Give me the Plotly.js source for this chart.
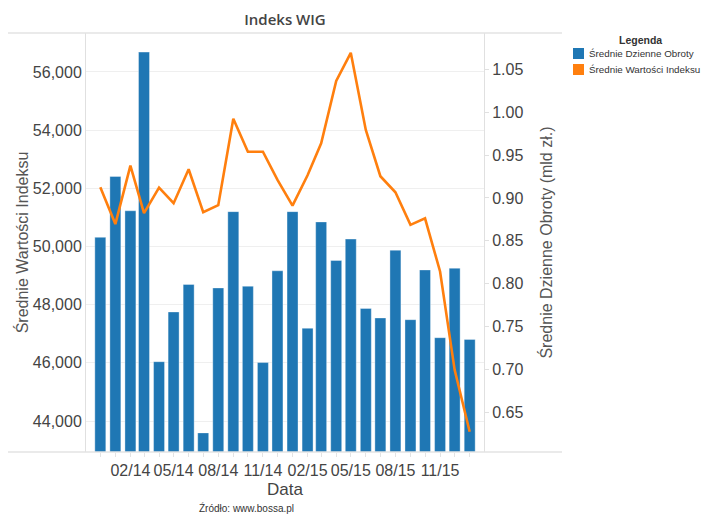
<!DOCTYPE html>
<html>
<head>
<meta charset="utf-8">
<script src="https://cdn.plot.ly/plotly-3.0.1.min.js"></script>
<style>html,body{margin:0;padding:0;background:#fff;}#chart{width:705px;height:515px;}</style>
</head>
<body>
<div id="chart"></div>
<script>
// Months (bars/points centred on the first day of each month)
const months = ["2013-12-01","2014-01-01","2014-02-01","2014-03-01","2014-04-01","2014-05-01",
  "2014-06-01","2014-07-01","2014-08-01","2014-09-01","2014-10-01","2014-11-01","2014-12-01",
  "2015-01-01","2015-02-01","2015-03-01","2015-04-01","2015-05-01","2015-06-01","2015-07-01",
  "2015-08-01","2015-09-01","2015-10-01","2015-11-01","2015-12-01","2016-01-01"];

// Średnie Dzienne Obroty (mld zł) – bars, right axis
const obroty = [0.854,0.925,0.885,1.070,0.709,0.767,0.799,0.626,0.795,0.884,0.797,0.708,0.815,
  0.884,0.748,0.872,0.827,0.852,0.771,0.760,0.839,0.758,0.816,0.737,0.818,0.735];

// Średnie Wartości Indeksu – line, left axis
const indeks = [52040,50770,52780,51145,52025,51490,52655,51180,51420,54395,53260,53260,52290,
  51405,52450,53550,55690,56660,54005,52415,51865,50745,50970,49140,45760,43630];

const leftTicks = [44000,46000,48000,50000,52000,54000,56000];
const rightTicks = [0.65,0.70,0.75,0.80,0.85,0.90,0.95,1.00,1.05];

const seriesNames = ['Średnie Dzienne Obroty', 'Średnie Wartości Indeksu'];
const blue = '#1f77b4', orange = '#ff7f0e';
const seriesColors = [blue, orange];
const FONT = 'Liberation Sans, Arial, sans-serif';

const traces = [
  {type:'bar', x:months, y:obroty, yaxis:'y', name:seriesNames[0],
   marker:{color:blue, line:{color:'rgba(255,255,255,0.35)', width:1}},
   width:22.6*86400000, showlegend:false},
  {type:'scatter', mode:'lines', x:months, y:indeks, yaxis:'y2', name:seriesNames[1],
   line:{color:orange, width:2.6}, showlegend:false}
];

const W = 705, H = 515;
const pl = (px)=> (px-86)/398;        // paper x from pixel
const pv = (py)=> (452-py)/419;       // paper y from pixel

// hand-built legend (Tableau style: square swatches for both series)
const legShapes = seriesNames.map((n,i)=>({type:'rect', xref:'paper', yref:'paper',
  x0:pl(573), x1:pl(584), y0:pv(48+16*i+11), y1:pv(48+16*i), fillcolor:seriesColors[i], line:{width:0}}));
const legAnn = seriesNames.map((n,i)=>({text:n, xref:'paper', yref:'paper', x:pl(587), xanchor:'left',
  y:pv(53.5+16*i), yanchor:'middle', showarrow:false, font:{family:FONT, size:9.8, color:'#333'}}));

const layout = {
  width:W, height:H, autosize:false,
  margin:{l:86, r:221, t:33, b:63, autoexpand:false},
  paper_bgcolor:'#fff', plot_bgcolor:'#fff',
  font:{family:FONT, color:'#555'},
  title:{text:'Indeks WIG', x:0.5, xref:'paper', xanchor:'center', y:1-20/515, yanchor:'middle',
    font:{family:'Open Sans, sans-serif', size:15, color:'#444', weight:600}},
  bargap:0,
  showlegend:false,
  xaxis:{type:'date', range:['2013-11-01 12:00','2016-01-30 12:00'],
    tick0:'2014-02-01', dtick:'M3', tickformat:'%m/%y', tickangle:0, automargin:false,
    ticks:'outside', ticklen:4, tickcolor:'#e3e3e3',
    minor:{dtick:'M1', ticks:'outside', ticklen:4, tickcolor:'#e3e3e3', showgrid:false},
    showgrid:false, zeroline:false, showline:false,
    tickfont:{family:FONT, size:16, color:'#444'},
    title:{text:'Data', font:{family:FONT, size:17, color:'#444'}, standoff:4}},
  yaxis:{side:'right', range:[0.6037,1.0923], tickvals:rightTicks, tickformat:'.2f', automargin:true,
    showgrid:false, zeroline:false, showline:true, linecolor:'#e0e0e0', linewidth:1,
    ticks:'outside', ticklen:4, tickcolor:'#e0e0e0',
    tickfont:{family:FONT, size:16, color:'#444'},
    title:{text:'Średnie Dzienne Obroty (mld zł.)', standoff:18, font:{family:FONT, size:16, color:'#555'}}},
  yaxis2:{side:'left', overlaying:'y', range:[42935,57340], tickvals:leftTicks, tickformat:',d', automargin:false,
    showgrid:true, gridcolor:'#efefef', gridwidth:1, zeroline:false,
    showline:true, linecolor:'#e0e0e0', linewidth:1, ticks:'',
    tickfont:{family:FONT, size:16, color:'#444'},
    title:{text:'Średnie Wartości Indeksu', font:{family:FONT, size:16, color:'#555'}}},
  shapes:[
    {type:'line', xref:'paper', yref:'paper', x0:pl(8), x1:pl(562), y0:1, y1:1, line:{color:'#e3e3e3', width:1.5}},
    {type:'line', xref:'paper', yref:'paper', x0:pl(8), x1:pl(562), y0:0, y1:0, line:{color:'#e3e3e3', width:1.5}}
  ].concat(legShapes),
  annotations:[
    {text:'<b>Legenda</b>', xref:'paper', yref:'paper', x:pl(640), xanchor:'center',
     y:pv(40), yanchor:'middle', showarrow:false, font:{family:FONT, size:10.5, color:'#333'}},
    {text:'Źródło: www.bossa.pl', xref:'paper', yref:'paper', x:pl(197), xanchor:'left',
     y:pv(508), yanchor:'middle', showarrow:false, font:{family:FONT, size:10, color:'#333'}}
  ].concat(legAnn)
};

Plotly.newPlot('chart', traces, layout, {displayModeBar:false, staticPlot:true});
</script>
</body>
</html>
